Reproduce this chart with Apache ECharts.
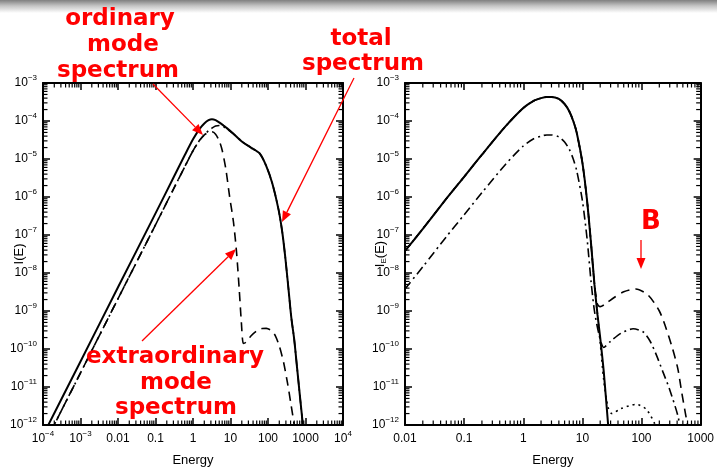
<!DOCTYPE html>
<html>
<head>
<meta charset="utf-8">
<script src="https://cdn.jsdelivr.net/npm/echarts@6/dist/echarts.min.js"></script>
<style>
  html, body { margin: 0; padding: 0; background: #fff; }
  #chart { width: 717px; height: 472px; }
</style>
</head>
<body>
<div id="chart"></div>
<script>
// ---- left panel: total / ordinary / extraordinary spectrum ----
var totE = [1e-4, 1e-3, 0.01, 0.1, 0.3, 0.6, 1, 1.5, 2, 2.6, 3.2, 4, 5, 6.5, 8, 12, 20, 35, 60, 90, 130, 190, 240, 290, 350, 420, 500, 600, 720, 850, 1000];
var totI = [5.3e-13, 4.7e-11, 4.2e-9, 3.7e-7, 3.2e-6, 1.25e-5, 3.3e-5, 6.2e-5, 8.6e-5, 1.05e-4, 1.12e-4, 1.06e-4, 9.2e-5, 7.6e-5, 6.5e-5, 4.6e-5, 2.9e-5, 2.0e-5, 1.4e-5, 6.5e-6, 2.3e-6, 4.8e-7, 1.2e-7, 2.5e-8, 4e-9, 6.5e-10, 1.8e-10, 3e-11, 5e-12, 1e-12, 1.5e-13];

var ordE = [1e-4, 1e-3, 0.01, 0.1, 0.3, 0.6, 1, 1.5, 2, 2.6, 3.2, 4, 5, 6.5, 8, 12, 20, 35, 60, 90, 130, 190, 240, 290, 350, 420, 500, 600, 720, 850, 1000];
var ordI = [2.65e-13, 2.35e-11, 2.1e-9, 1.85e-7, 1.6e-6, 6.2e-6, 1.65e-5, 3.1e-5, 4.3e-5, 5.6e-5, 6.5e-5, 7.4e-5, 7.6e-5, 7.0e-5, 6.2e-5, 4.55e-5, 2.9e-5, 2.0e-5, 1.4e-5, 6.5e-6, 2.3e-6, 4.8e-7, 1.2e-7, 2.5e-8, 4e-9, 6.5e-10, 1.8e-10, 3e-11, 5e-12, 1e-12, 1.5e-13];

var extE = [1e-4, 1e-3, 0.01, 0.1, 0.3, 0.6, 1, 1.5, 2, 2.6, 3.2, 4, 5, 6, 7.5, 9.5, 12, 14.5, 17, 19.5, 22, 26, 35, 50, 70, 90, 120, 155, 200, 260, 330, 410, 500, 600];
var extI = [2.65e-13, 2.35e-11, 2.1e-9, 1.85e-7, 1.6e-6, 6.2e-6, 1.65e-5, 3.1e-5, 4.3e-5, 5.0e-5, 5.2e-5, 4.5e-5, 3.0e-5, 1.7e-5, 5.5e-6, 1.0e-6, 2.2e-7, 3.5e-8, 4e-9, 5e-10, 1.4e-10, 1.5e-10, 2.2e-10, 3.0e-10, 3.45e-10, 3.5e-10, 3.1e-10, 2.3e-10, 1.2e-10, 4.5e-11, 1.3e-11, 3.5e-12, 1e-12, 2.5e-13];

// ---- right panel: I_E(E) for several B ----
var rSolE = [0.01, 0.02, 0.05, 0.1, 0.2, 0.5, 1, 1.5, 2, 2.5, 3, 4, 5, 6, 7, 8, 10, 12, 14, 16, 18, 20, 23, 27, 30];
var rSolI = [3.8e-8, 1.45e-7, 9e-7, 3.4e-6, 1.3e-5, 7.2e-5, 2.2e-4, 3.4e-4, 4.0e-4, 4.3e-4, 4.3e-4, 3.8e-4, 2.8e-4, 1.8e-4, 1.0e-4, 5e-5, 8e-6, 8e-7, 6e-8, 5e-9, 8e-10, 2e-10, 2.5e-11, 1.2e-12, 2e-13];

var rDashE = [0.01, 0.02, 0.05, 0.1, 0.2, 0.5, 1, 1.5, 2, 2.5, 3, 4, 5, 6, 7, 8, 10, 12, 14, 16, 18, 20, 24, 35, 50, 80, 130, 200, 250, 330, 410, 480, 560, 650];
var rDashI = [3.8e-8, 1.45e-7, 9e-7, 3.4e-6, 1.3e-5, 7.2e-5, 2.2e-4, 3.4e-4, 4.0e-4, 4.3e-4, 4.3e-4, 3.8e-4, 2.8e-4, 1.8e-4, 1.0e-4, 5e-5, 8e-6, 8e-7, 6e-8, 5e-9, 1.5e-9, 1.3e-9, 1.5e-9, 2.3e-9, 3.2e-9, 3.8e-9, 2.6e-9, 1.0e-9, 4.2e-10, 1.1e-10, 3.1e-11, 7e-12, 1.8e-12, 5e-13];

var rDotE = [0.01, 0.02, 0.05, 0.1, 0.2, 0.5, 1, 1.5, 2, 2.5, 3, 4, 5, 6, 7, 8, 10, 12, 14, 16, 18, 20, 23, 27, 31.6, 45, 82, 120, 166, 200];
var rDotI = [3.8e-8, 1.45e-7, 9e-7, 3.4e-6, 1.3e-5, 7.2e-5, 2.2e-4, 3.4e-4, 4.0e-4, 4.3e-4, 4.3e-4, 3.8e-4, 2.8e-4, 1.8e-4, 1.0e-4, 5e-5, 8e-6, 8e-7, 6e-8, 5e-9, 8e-10, 1.5e-10, 1.5e-11, 3e-12, 2e-12, 2.7e-12, 3.5e-12, 2.6e-12, 1.1e-12, 4e-13];

var rDdE = [0.01, 0.02, 0.05, 0.1, 0.2, 0.5, 1, 1.5, 2, 2.5, 3, 4, 5, 6, 7, 8, 10, 12, 14, 16, 19, 23, 30, 45, 72, 107, 140, 178, 230, 296, 410, 480];
var rDdI = [3.8e-9, 1.45e-8, 9e-8, 3.4e-7, 1.3e-6, 7.2e-6, 2.2e-5, 3.4e-5, 4.0e-5, 4.3e-5, 4.3e-5, 3.8e-5, 2.8e-5, 1.8e-5, 1.0e-5, 5e-6, 8e-7, 8e-8, 6e-9, 1e-9, 2.5e-10, 1.1e-10, 1.6e-10, 2.6e-10, 3.4e-10, 2.8e-10, 1.6e-10, 7e-11, 2.5e-11, 9e-12, 1.8e-12, 5e-13];

var chart = echarts.init(document.getElementById('chart'));

var FONT = '"Liberation Sans Narrow", "Liberation Sans", Arial, sans-serif';
var RED = '#ff0000';

function pairs(xs, ys) {
  return xs.map(function (x, i) { return [x, ys[i]]; });
}

// 2..9 x 10^d ticks between two decades
function minors(lo, hi) {
  var out = [];
  for (var d = Math.round(Math.log10(lo)); d < Math.round(Math.log10(hi)); d++) {
    for (var m = 2; m <= 9; m++) out.push(m * Math.pow(10, d));
  }
  return out;
}

var rich = {
  b: { fontFamily: FONT, fontSize: 12, lineHeight: 18, color: '#000' },
  s: { fontFamily: FONT, fontSize: 8, lineHeight: 8, color: '#000', verticalAlign: 'top' }
};

function expLabel(v) {
  var p = Math.round(Math.log10(v));
  return '{b|10}{s|' + (p < 0 ? '\u2212' : '') + Math.abs(p) + '}';
}
function energyLabel(v) {
  var p = Math.round(Math.log10(v));
  if (p >= -2 && p <= 3) return '{b|' + Number(Math.pow(10, p).toFixed(Math.max(0, -p))) + '}';
  return expLabel(v);
}

var tick = { show: true, inside: true, length: 7, lineStyle: { color: '#000', width: 1.5 } };
var line = { show: true, lineStyle: { color: '#000', width: 2 } };

function xAxes(grid, min, max) {
  return [{
    type: 'log', gridIndex: grid, min: min, max: max, position: 'bottom',
    name: 'Energy', nameLocation: 'middle', nameGap: 29, nameMoveOverlap: false,
    nameTextStyle: { fontFamily: FONT, fontSize: 13, color: '#000' },
    axisLine: line, axisTick: tick,
    axisLabel: { margin: 5, formatter: energyLabel, rich: rich, showMinLabel: true, showMaxLabel: true },
    splitLine: { show: false }
  }, {
    type: 'log', gridIndex: grid, min: min, max: max, position: 'top',
    axisLine: line, axisTick: tick,
    axisLabel: { show: false },
    splitLine: { show: false }
  }];
}

function yAxes(grid, nameRich, nameGap) {
  return [{
    type: 'log', gridIndex: grid, min: 1e-12, max: 1e-3, position: 'left',
    name: nameRich, nameLocation: 'middle', nameGap: nameGap, nameMoveOverlap: false,
    nameTextStyle: {
      fontFamily: FONT, fontSize: 13, color: '#000',
      rich: {
        a: { fontFamily: FONT, fontSize: 13, lineHeight: 16, color: '#000' },
        e: { fontFamily: FONT, fontSize: 8, lineHeight: 8, color: '#000', verticalAlign: 'bottom' }
      }
    },
    axisLine: line, axisTick: tick,
    axisLabel: { margin: 6, formatter: expLabel, rich: rich, showMinLabel: true, showMaxLabel: true },
    splitLine: { show: false }
  }, {
    type: 'log', gridIndex: grid, min: 1e-12, max: 1e-3, position: 'right',
    axisLine: line, axisTick: tick,
    axisLabel: { show: false },
    splitLine: { show: false }
  }];
}

function curve(name, data, xi, yi, type, width) {
  return {
    name: name, type: 'line', xAxisIndex: xi, yAxisIndex: yi,
    data: data, showSymbol: false, symbol: 'none', smooth: 0.25,
    lineStyle: { color: '#000', width: width, type: type },
    z: 3
  };
}

// minor ticks on all four sides, placed through the axis scales
var MINOR = 4.5;
function minorX(xi, yi, vals, ymid) {
  return {
    type: 'custom', xAxisIndex: xi, yAxisIndex: yi, silent: true, clip: false, z: 4,
    data: vals.map(function (v) { return [v, ymid]; }),
    renderItem: function (params, api) {
      var cs = params.coordSys;
      var x = api.coord([api.value(0), api.value(1)])[0];
      var st = { stroke: '#000', lineWidth: 1.2 };
      return { type: 'group', children: [
        { type: 'line', shape: { x1: x, y1: cs.y + cs.height, x2: x, y2: cs.y + cs.height - MINOR }, style: st },
        { type: 'line', shape: { x1: x, y1: cs.y, x2: x, y2: cs.y + MINOR }, style: st }
      ] };
    }
  };
}
function minorY(xi, yi, vals, xmid) {
  return {
    type: 'custom', xAxisIndex: xi, yAxisIndex: yi, silent: true, clip: false, z: 4,
    data: vals.map(function (v) { return [xmid, v]; }),
    renderItem: function (params, api) {
      var cs = params.coordSys;
      var y = api.coord([api.value(0), api.value(1)])[1];
      var st = { stroke: '#000', lineWidth: 1.2 };
      return { type: 'group', children: [
        { type: 'line', shape: { x1: cs.x, y1: y, x2: cs.x + MINOR, y2: y }, style: st },
        { type: 'line', shape: { x1: cs.x + cs.width, y1: y, x2: cs.x + cs.width - MINOR, y2: y }, style: st }
      ] };
    }
  };
}

function arrow(x1, y1, x2, y2) {
  var a = Math.atan2(y2 - y1, x2 - x1), L = 11, W = 4.5;
  var bx = x2 - L * Math.cos(a), by = y2 - L * Math.sin(a);
  return [
    { type: 'line', z: 100, shape: { x1: x1, y1: y1, x2: bx, y2: by }, style: { stroke: RED, lineWidth: 1.3 } },
    { type: 'polygon', z: 100, shape: { points: [[x2, y2], [bx + W * Math.sin(a), by - W * Math.cos(a)], [bx - W * Math.sin(a), by + W * Math.cos(a)]] }, style: { fill: RED } }
  ];
}
function note(text, x, y, size) {
  return { type: 'text', z: 100, style: {
    text: text, x: x, y: y, align: 'center', verticalAlign: 'middle',
    fontFamily: '"DejaVu Sans", sans-serif', fontWeight: 'bold', fontSize: size || 23, fill: RED
  } };
}

var graphics = [{
  type: 'rect', z: 0, shape: { x: 0, y: 0, width: 717, height: 13 },
  style: { fill: new echarts.graphic.LinearGradient(0, 0, 0, 1, [
    { offset: 0, color: '#808080' }, { offset: 0.45, color: '#c4c4c4' }, { offset: 1, color: '#ffffff' }
  ]) }
},
  note('ordinary', 120, 19), note('mode', 123, 45), note('spectrum', 118, 71),
  note('total', 361, 39), note('spectrum', 363, 64),
  note('extraordinary', 175, 357), note('mode', 176, 383), note('spectrum', 176, 408),
  note('B', 651, 222, 26)
].concat(
  arrow(153, 84, 203, 135),
  arrow(354, 78, 282, 222),
  arrow(142, 341, 236, 249),
  arrow(641, 240, 641, 269)
);

var option = {
  animation: false,
  backgroundColor: '#fff',
  grid: [
    { left: 43, top: 83, width: 300, height: 343 },
    { left: 405, top: 83, width: 298, height: 343 }
  ],
  xAxis: xAxes(0, 1e-4, 1e4).concat(xAxes(1, 0.01, 1000)),
  yAxis: yAxes(0, 'I(E)', 17).concat(yAxes(1, '{a|I}{e|E}{a|(E)}', 17)),
  series: [
    curve('total', pairs(totE, totI), 0, 0, 'solid', 2),
    curve('ordinary', pairs(ordE, ordI), 0, 0, [9, 4, 2, 4], 1.6),
    curve('extraordinary', pairs(extE, extI), 0, 0, [9, 6], 1.6),
    curve('solid', pairs(rSolE, rSolI), 2, 2, 'solid', 2),
    curve('dashed', pairs(rDashE, rDashI), 2, 2, [9, 6], 1.6),
    curve('dashdot', pairs(rDdE, rDdI), 2, 2, [9, 4, 2, 4], 1.6),
    curve('dotted', pairs(rDotE, rDotI), 2, 2, [2, 4], 1.6),
    minorX(0, 0, minors(1e-4, 1e4), 1e-7),
    minorY(0, 0, minors(1e-12, 1e-3), 1),
    minorX(2, 2, minors(0.01, 1000), 1e-7),
    minorY(2, 2, minors(1e-12, 1e-3), 1)
  ],
  graphic: graphics
};

chart.setOption(option);
</script>
</body>
</html>
